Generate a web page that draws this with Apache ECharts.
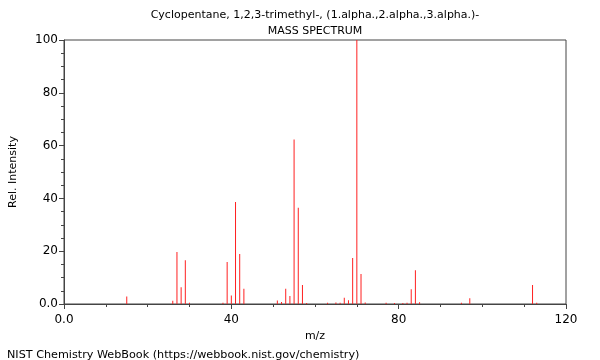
<!DOCTYPE html>
<html>
<head>
<meta charset="utf-8">
<script src="https://cdn.jsdelivr.net/npm/echarts@6/dist/echarts.min.js"></script>
<style>html,body{margin:0;padding:0;background:#fff}#c{width:600px;height:360px}</style>
</head>
<body>
<div id="c"></div>
<script>
const mz = [15, 26, 27, 28, 29, 30, 38, 39, 40, 41, 42, 43, 51, 52, 53, 54, 55, 56, 57, 58, 63, 65, 66, 67, 68, 69, 70, 71, 72, 77, 79, 81, 82, 83, 84, 85, 95, 97, 112, 113];
const intensity = [2.8, 1.2, 19.7, 6.3, 16.6, 0.5, 0.5, 15.9, 3.2, 38.6, 18.9, 5.8, 1.3, 0.8, 5.8, 3.0, 62.3, 36.5, 7.2, 0.4, 0.5, 0.6, 0.5, 2.4, 1.4, 17.4, 100, 11.4, 0.6, 0.5, 0.4, 0.4, 0.5, 5.6, 12.8, 0.7, 0.5, 2.2, 7.2, 0.5];
const xTicks = [0, 40, 80, 120];
const yTicks = [0, 20, 40, 60, 80, 100];
const titleLines = ["Cyclopentane, 1,2,3-trimethyl-, (1.alpha.,2.alpha.,3.alpha.)-", "MASS SPECTRUM"];
const footer = "NIST Chemistry WebBook (https://webbook.nist.gov/chemistry)";

const font = "DejaVu Sans";
const chart = echarts.init(document.getElementById('c'), null, {renderer: 'canvas'});
const fmt = v => (v === 0 ? '0.0' : String(v));
chart.setOption({
  animation: false,
  textStyle: {fontFamily: font},
  title: [
    {text: titleLines[0], left: 310, top: 5, textAlign: 'center', textStyle: {fontFamily: font, fontSize: 11, fontWeight: 'normal', color: '#000'}},
    {text: titleLines[1], left: 310, top: 21, textAlign: 'center', textStyle: {fontFamily: font, fontSize: 11, fontWeight: 'normal', color: '#000'}},
    {text: footer, left: 2, top: 345, textStyle: {fontFamily: font, fontSize: 11.2, fontWeight: 'normal', color: '#000'}}
  ],
  grid: {left: 62, right: 34, top: 40, bottom: 56, show: true, borderColor: '#444', borderWidth: 1, backgroundColor: 'transparent'},
  xAxis: {
    type: 'value', min: xTicks[0], max: xTicks[xTicks.length - 1], interval: 40,
    name: 'm/z', nameLocation: 'middle', nameGap: 23,
    nameTextStyle: {fontFamily: font, fontSize: 11, color: '#000'},
    axisLine: {show: true, lineStyle: {color: '#444'}},
    axisTick: {show: true, length: 5, lineStyle: {color: '#444'}},
    minorTick: {show: true, splitNumber: 4, length: 3, lineStyle: {color: '#444'}},
    splitLine: {show: false},
    axisLabel: {formatter: fmt, fontFamily: font, fontSize: 12, color: '#000', margin: 10}
  },
  yAxis: {
    type: 'value', min: yTicks[0], max: yTicks[yTicks.length - 1], interval: 20,
    name: 'Rel. Intensity', nameLocation: 'middle', nameGap: 45, nameRotate: 90,
    nameTextStyle: {fontFamily: font, fontSize: 11, color: '#000'},
    axisLine: {show: true, lineStyle: {color: '#444'}},
    axisTick: {show: true, length: 5, lineStyle: {color: '#444'}},
    minorTick: {show: true, splitNumber: 4, length: 3, lineStyle: {color: '#444'}},
    splitLine: {show: false},
    axisLabel: {formatter: fmt, fontFamily: font, fontSize: 12, color: '#000', margin: 6}
  },
  series: [{
    type: 'bar',
    barWidth: 1,
    itemStyle: {color: '#ff2020'},
    data: mz.map((m, i) => [m, intensity[i]])
  }]
});
</script>
</body>
</html>
